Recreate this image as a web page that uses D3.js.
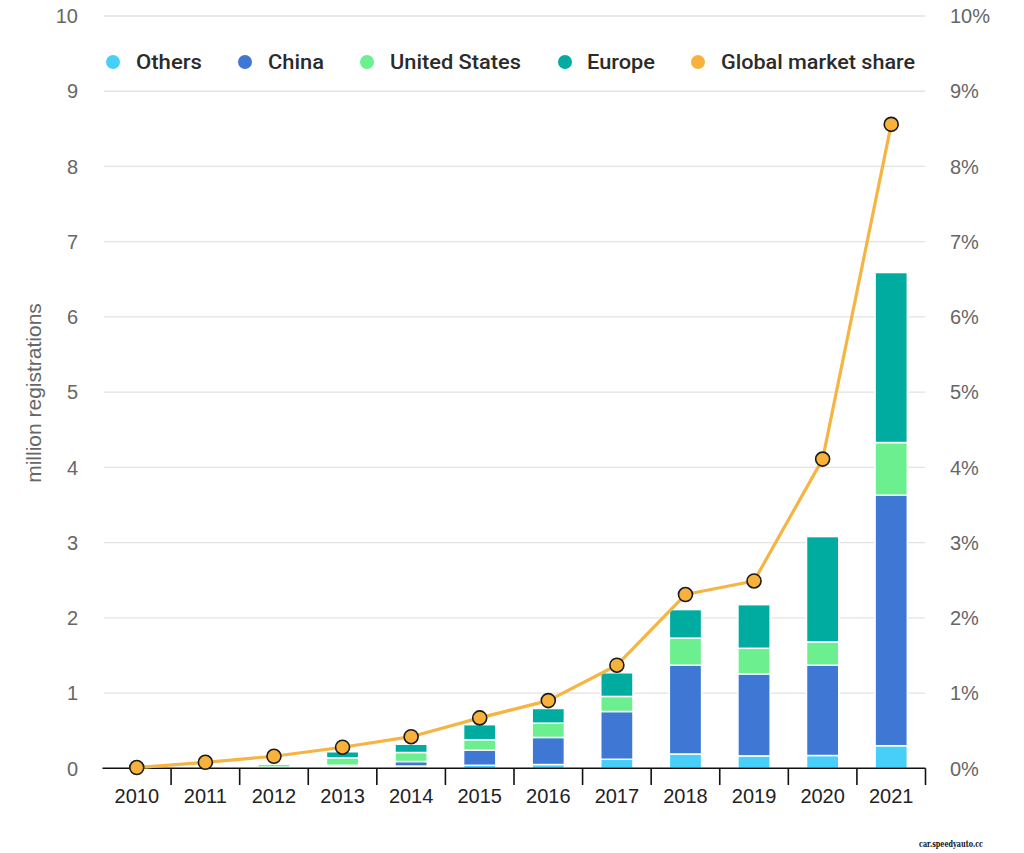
<!DOCTYPE html>
<html>
<head>
<meta charset="utf-8">
<script src="https://cdn.jsdelivr.net/npm/d3@7/dist/d3.min.js"></script>
<style>
  html, body { margin: 0; padding: 0; background: #fff; }
  svg { display: block; }
</style>
</head>
<body>
<svg id="chart" width="1024" height="853"></svg>
<script>
const years = ["2010","2011","2012","2013","2014","2015","2016","2017","2018","2019","2020","2021"];
const others = [0, 0, 0.005, 0.02, 0.03, 0.04, 0.05, 0.12, 0.19, 0.165, 0.17, 0.30];
const china  = [0, 0, 0.01, 0.02, 0.06, 0.20, 0.36, 0.635, 1.18, 1.09, 1.20, 3.33];
const unitedStates = [0, 0, 0.04, 0.10, 0.12, 0.14, 0.19, 0.20, 0.36, 0.34, 0.31, 0.70];
const europe = [0, 0, 0.01, 0.08, 0.11, 0.20, 0.195, 0.315, 0.38, 0.58, 1.40, 2.26];
const marketShare = [0.01, 0.08, 0.16, 0.28, 0.42, 0.67, 0.90, 1.37, 2.31, 2.49, 4.11, 8.56];
const leftTicks = [0,1,2,3,4,5,6,7,8,9,10];
const rightTicks = [0,1,2,3,4,5,6,7,8,9,10];

const seriesNames = ["Others","China","United States","Europe"];
const seriesColors = ["#48CFF9","#3F77D4","#6CF08F","#00AC9F"];
const lineColor = "#F6B443";

const svg = d3.select("#chart");

const x = d3.scaleBand().domain(years).range([102.5, 925.5]).paddingInner(0.53).paddingOuter(0.265);
const y = d3.scaleLinear().domain([0, 10]).range([768.3, 16]);
const y2 = d3.scaleLinear().domain([0, 10]).range([768.3, 16]);

// gridlines
svg.append("g").selectAll("line").data(leftTicks.filter(d => d > 0)).join("line")
  .attr("x1", 104).attr("x2", 925)
  .attr("y1", d => y(d)).attr("y2", d => y(d))
  .attr("stroke", "#e3e3e3").attr("stroke-width", 1.3);

// left axis labels
svg.append("g").selectAll("text").data(leftTicks).join("text")
  .attr("x", 78).attr("y", d => y(d)).attr("dy", "0.36em")
  .attr("text-anchor", "end")
  .attr("font-family", "Liberation Sans, Arial, sans-serif")
  .attr("font-size", 20).attr("fill", "#666")
  .text(d => d);

// right axis labels
svg.append("g").selectAll("text").data(rightTicks).join("text")
  .attr("x", 950).attr("y", d => y2(d)).attr("dy", "0.36em")
  .attr("text-anchor", "start")
  .attr("font-family", "Liberation Sans, Arial, sans-serif")
  .attr("font-size", 20).attr("fill", "#666")
  .text(d => d + "%");

// y title
svg.append("text")
  .attr("transform", "translate(41,393) rotate(-90)")
  .attr("text-anchor", "middle")
  .attr("font-family", "Liberation Sans, Arial, sans-serif")
  .attr("font-size", 21).attr("fill", "#666")
  .text("million registrations");

// stacked bars
const table = years.map((yr, i) => ({year: yr, "Others": others[i], "China": china[i], "United States": unitedStates[i], "Europe": europe[i]}));
const stack = d3.stack().keys(seriesNames)(table);
const color = d3.scaleOrdinal().domain(seriesNames).range(seriesColors);

svg.append("g").selectAll("g").data(stack).join("g")
  .attr("fill", d => color(d.key))
  .selectAll("rect").data(d => d.filter(s => s[1] - s[0] > 0)).join("rect")
  .attr("x", d => x(d.data.year))
  .attr("width", x.bandwidth())
  .attr("y", d => y(d[1]))
  .attr("height", d => Math.max(0.8, y(d[0]) - y(d[1])))
  .attr("stroke", "#fff").attr("stroke-width", 1.5);

// x axis
const xAxis = svg.append("g");
xAxis.append("line").attr("x1", 102.5).attr("x2", 925.5).attr("y1", 768.3).attr("y2", 768.3)
  .attr("stroke", "#111").attr("stroke-width", 1.6);
const step = x.step();
xAxis.selectAll("line.tick").data(years.slice(1).concat(["end"])).join("line")
  .attr("class", "tick")
  .attr("x1", (d, i) => x(years[i]) - x.paddingInner() * step / 2 + step)
  .attr("x2", (d, i) => x(years[i]) - x.paddingInner() * step / 2 + step)
  .attr("y1", 768.3).attr("y2", 785)
  .attr("stroke", "#111").attr("stroke-width", 1.6);
xAxis.selectAll("text").data(years).join("text")
  .attr("x", d => x(d) + x.bandwidth() / 2)
  .attr("y", 803)
  .attr("text-anchor", "middle")
  .attr("font-family", "Liberation Sans, Arial, sans-serif")
  .attr("font-size", 20).attr("fill", "#222")
  .text(d => d);

// line
const line = d3.line().x((d, i) => x(years[i]) + x.bandwidth() / 2).y(d => y2(d));
svg.append("path").datum(marketShare)
  .attr("d", line).attr("fill", "none")
  .attr("stroke", lineColor).attr("stroke-width", 3.2).attr("stroke-linejoin", "round");
svg.append("g").selectAll("circle").data(marketShare).join("circle")
  .attr("cx", (d, i) => x(years[i]) + x.bandwidth() / 2)
  .attr("cy", d => y2(d))
  .attr("r", 7)
  .attr("fill", "#F8B23C").attr("stroke", "#1a1a1a").attr("stroke-width", 1.6);

// legend
const legendItems = [
  {name: "Others", color: seriesColors[0], dx: 113, tx: 136, w: 66},
  {name: "China", color: seriesColors[1], dx: 245, tx: 268, w: 56},
  {name: "United States", color: seriesColors[2], dx: 367, tx: 390, w: 131},
  {name: "Europe", color: seriesColors[3], dx: 565, tx: 587, w: 68},
  {name: "Global market share", color: "#F8B23C", dx: 698, tx: 721, w: 194}
];
const lg = svg.append("g");
lg.selectAll("circle").data(legendItems).join("circle")
  .attr("cx", d => d.dx).attr("cy", 62).attr("r", 7)
  .attr("fill", d => d.color);
lg.selectAll("text").data(legendItems).join("text")
  .attr("x", d => d.tx).attr("y", 62).attr("dy", "0.36em")
  .attr("font-family", "Roboto, Liberation Sans, sans-serif")
  .attr("font-weight", 500)
  .attr("font-size", 20).attr("fill", "#2b2b2b")
  .attr("textLength", d => d.w).attr("lengthAdjust", "spacingAndGlyphs")
  .text(d => d.name);

// watermark
svg.append("text")
  .attr("x", 919).attr("y", 847)
  .attr("font-family", "DejaVu Serif, serif").attr("font-weight", "bold")
  .attr("font-size", 9).attr("fill", "#111")
  .attr("textLength", 64).attr("lengthAdjust", "spacingAndGlyphs")
  .text("car.speedyauto.cc");
</script>
</body>
</html>
